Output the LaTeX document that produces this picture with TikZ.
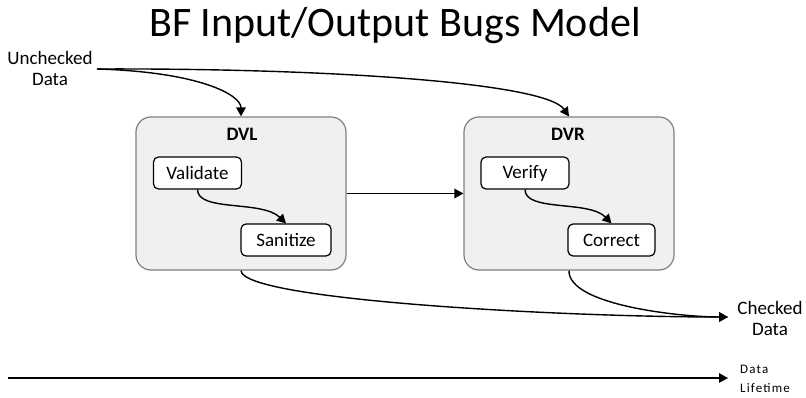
\documentclass[tikz,border=0pt]{standalone}
\usepackage{fontspec}
\setmainfont{Carlito}
\usetikzlibrary{arrows.meta}
\begin{document}
\begin{tikzpicture}[x=1pt,y=-1pt,
  conn/.style={line width=1.4pt, -{Triangle[length=9pt,width=9.5pt]}},
  groupbox/.style={draw=black!50, fill=black!6, rounded corners=15pt, line width=1.2pt, minimum width=210pt, minimum height=153pt, inner sep=0pt},
  taskbox/.style={draw, fill=white, rounded corners=5pt, line width=1.2pt, font=\fontsize{19}{19}\selectfont, inner sep=0pt, minimum height=32pt},
  lbl/.style={font=\fontsize{19}{21}\selectfont, align=center, inner sep=0pt}]
\path[use as bounding box] (0,0) rectangle (806,398);

\node[font=\fontsize{42}{42}\selectfont, inner sep=0pt, anchor=base] (title) at (395,37) {BF Input/Output Bugs Model};

\node[groupbox] (dvl) at (241,193.5) {};
\node[groupbox] (dvr) at (569,193.5) {};
\node[font=\bfseries\fontsize{19}{19}\selectfont, inner sep=0pt, anchor=base] (dvllbl) at (242,141) {DVL};
\node[font=\bfseries\fontsize{19}{19}\selectfont, inner sep=0pt, anchor=base] (dvrlbl) at (568,141) {DVR};

\node[taskbox, minimum width=88pt] (val) at (197.5,173) {Validate};
\node[taskbox, minimum width=90pt] (san) at (286,240) {Sanitize};
\node[taskbox, minimum width=88pt] (ver) at (525,173) {Verify};
\node[taskbox, minimum width=87pt] (cor) at (611.5,240) {Correct};

\node[lbl, anchor=north] (unchk) at (50,51) {Unchecked\\Data};
\coordinate (src) at (97,69);
\node[lbl, anchor=north] (chkd) at (770,301) {Checked\\Data};
\coordinate (chk) at (728,317);

\node[font=\fontsize{13}{19}\selectfont\addfontfeatures{LetterSpace=9}, align=left, anchor=north west, inner sep=0pt] (life) at (740,365) {Data\\Lifetime};
\coordinate (lstart) at (8,378);
\coordinate (lend) at (728,378);

\draw[conn] (src) .. controls (200,72) and (241,95) .. (dvl.north);
\draw[conn] (src) .. controls (320,68) and (545,82) .. (dvr.north);
\draw[conn] (dvl.east) -- (dvr.west);
\draw[conn] (val.south) .. controls (197.5,212) and (262,200) .. (san.north);
\draw[conn] (ver.south) .. controls (525,212) and (589,200) .. (cor.north);
\draw[conn] (dvl.south) .. controls (242,300) and (560,317) .. (chk);
\draw[conn] (dvr.south) .. controls (568,305) and (680,317) .. (chk);
\draw[conn] (lstart) -- (lend);
\end{tikzpicture}
\end{document}
